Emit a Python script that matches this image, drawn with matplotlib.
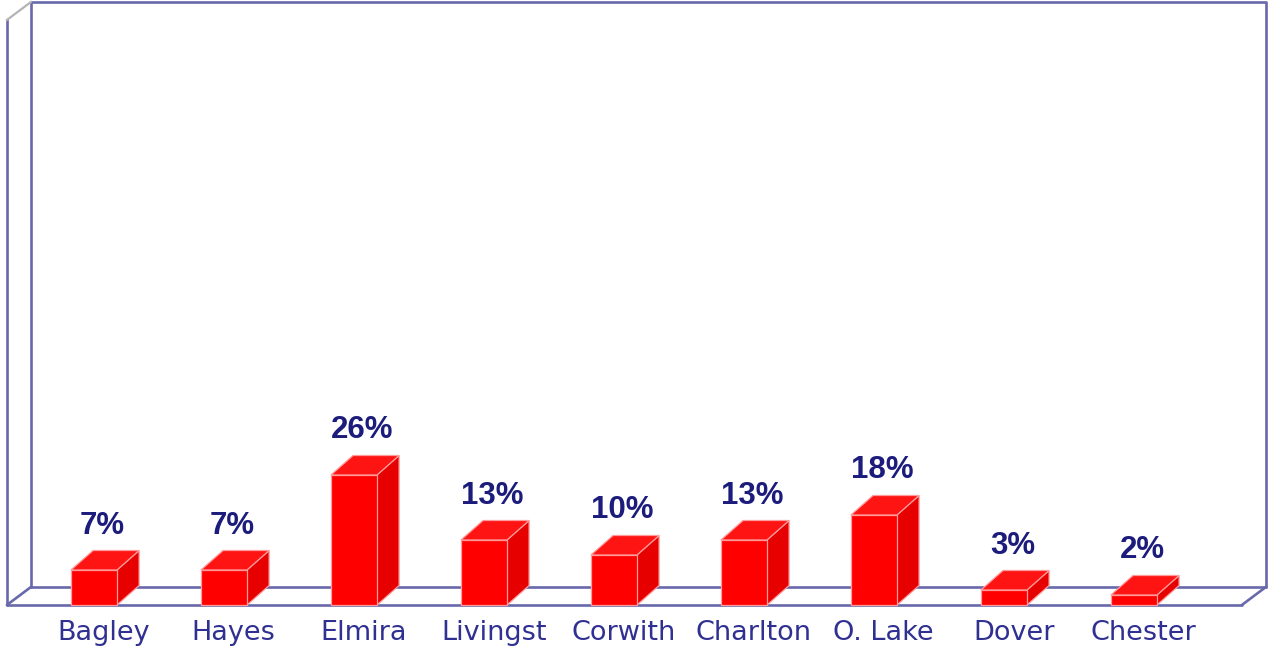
import matplotlib.pyplot as plt
from matplotlib.patches import Polygon

towns = ['Bagley', 'Hayes', 'Elmira', 'Livingst', 'Corwith',
         'Charlton', 'O. Lake', 'Dover', 'Chester']
shares = [7, 7, 26, 13, 10, 13, 18, 3, 2]

BAR_W = 0.354            # bar front width, in category units
DX, DY = 0.17, 3.9       # bar depth offset (x units, %)
WDX, WDY = 0.185, 3.6    # wall/floor depth offset
Y_TOP = 117              # height of the wall box
X_LEFT, X_RIGHT = -0.67, 8.83

fig = plt.figure(figsize=(12.72, 6.5), dpi=100)
ax = fig.add_axes([0, 0, 1, 1])
ax.set_xlim(-0.723, 9.062)
ax.set_ylim(-9, 121)
ax.axis('off')

# box: back wall, floor and left side wall
line = dict(color='#6868ac', lw=1.9, solid_capstyle='round')
bl, br = X_LEFT + WDX, X_RIGHT + WDX
ax.plot([bl, bl, br, br], [WDY, Y_TOP + WDY, Y_TOP + WDY, WDY], **line)
ax.plot([bl, br], [WDY, WDY], **line)
ax.plot([X_LEFT, X_RIGHT], [0, 0], **line)
ax.plot([X_LEFT, X_LEFT], [0, Y_TOP], **line)
ax.plot([X_LEFT, bl], [0, WDY], **line)
ax.plot([X_RIGHT, br], [0, WDY], **line)
ax.plot([X_LEFT, bl], [Y_TOP, Y_TOP + WDY], color='#b4b4b4', lw=1.6)

edge = '#ff9a9a'
for i, (name, v) in enumerate(zip(towns, shares)):
    x0, x1 = i - BAR_W / 2, i + BAR_W / 2
    side = [(x1, 0), (x1 + DX, DY), (x1 + DX, v + DY), (x1, v)]
    top = [(x0, v), (x0 + DX, v + DY), (x1 + DX, v + DY), (x1, v)]
    front = [(x0, 0), (x1, 0), (x1, v), (x0, v)]
    ax.add_patch(Polygon(side, closed=True, fc='#e60000', ec=edge, lw=0.9, zorder=3))
    ax.add_patch(Polygon(top, closed=True, fc='#ff1414', ec=edge, lw=0.9, zorder=3))
    ax.add_patch(Polygon(front, closed=True, fc='#ff0000', ec=edge, lw=0.9, zorder=4))

    ax.text(i + 0.065, v + DY + 3.4, f'{v}%', ha='center', va='baseline',
            fontsize=22.5, fontweight='bold', family='Liberation Sans',
            color='#1c1c7c', zorder=5)
    ax.text(i + 0.075, -7, name, ha='center', va='baseline',
            fontsize=19.5, family='DejaVu Sans', color='#303092', zorder=5)

fig.savefig('out.png', dpi=100, facecolor='white')
